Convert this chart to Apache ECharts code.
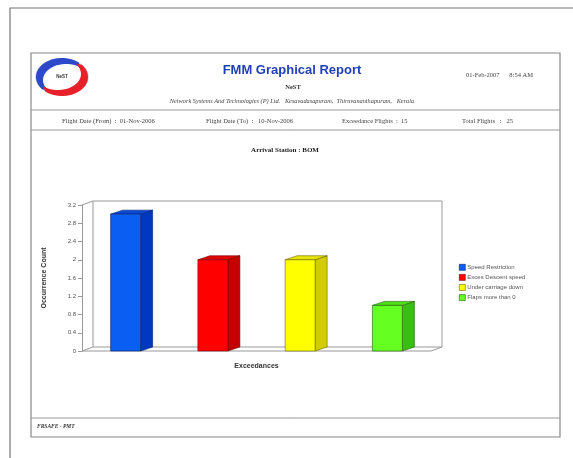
<!DOCTYPE html>
<html><head><meta charset="utf-8">
<script src="https://cdn.jsdelivr.net/npm/echarts@6/dist/echarts.min.js"></script>
<style>html,body{margin:0;padding:0;background:#fff}#c{width:573px;height:458px}</style>
</head><body><div id="c"></div>
<script>
const categories = ['Speed Restriction', 'Exces Descent speed', 'Under carriage down', 'Flaps more than 0'];
const values = [3, 2, 2, 1];
const yTicks = [0, 0.4, 0.8, 1.2, 1.6, 2, 2.4, 2.8, 3.2];
const frontColors = ['#0a5ef2', '#ff0000', '#ffff00', '#66ff22'];
const sideColors = ['#0038c0', '#c40000', '#d2cc00', '#38c010'];
const topColors = ['#0a4ad8', '#e00000', '#e8e400', '#50e018'];
const edgeColors = ['#00206a', '#700000', '#6a6600', '#206008'];

const chart = echarts.init(document.getElementById('c'), null, {renderer: 'canvas'});
const DX = 12, DY = -4, BW = 30;
const serif = '"Liberation Serif", "DejaVu Serif", serif';
const sans = '"Liberation Sans", Arial, sans-serif';

const series = categories.map((name, i) => ({
  type: 'custom', name: name,
  itemStyle: {color: frontColors[i], borderColor: edgeColors[i]},
  data: [[i, values[i]]],
  renderItem: function (params, api) {
    const x = api.value(0), v = api.value(1);
    const p0 = api.coord([x, 0]), p1 = api.coord([x, v]);
    const l = p0[0] - BW / 2, r = p0[0] + BW / 2, b = p0[1], t = p1[1];
    const ec = edgeColors[i];
    return {type: 'group', children: [
      {type: 'polygon', shape: {points: [[r, t], [r + DX, t + DY], [r + DX, b + DY], [r, b]]}, style: {fill: sideColors[i], stroke: ec, lineWidth: 0.6}},
      {type: 'polygon', shape: {points: [[l, t], [l + DX, t + DY], [r + DX, t + DY], [r, t]]}, style: {fill: topColors[i], stroke: ec, lineWidth: 0.6}},
      {type: 'rect', shape: {x: l, y: t, width: BW, height: b - t}, style: {fill: frontColors[i], stroke: ec, lineWidth: 0.6}}
    ]};
  }
}));

chart.setOption({
  animation: false,
  backgroundColor: '#fff',
  grid: {left: 82, right: 142, top: 205, bottom: 107},
  xAxis: {type: 'category', data: categories, name: 'Exceedances', nameLocation: 'middle', nameGap: 12,
    nameTextStyle: {fontFamily: sans, fontSize: 7, fontWeight: 'bold', color: '#333'},
    axisLine: {show: false}, axisTick: {show: false}, axisLabel: {show: false}, splitLine: {show: false}},
  yAxis: {type: 'value', min: yTicks[0], max: yTicks[yTicks.length - 1], interval: 0.4,
    name: 'Occurrence Count', nameLocation: 'middle', nameRotate: 90, nameGap: 34,
    nameTextStyle: {fontFamily: sans, fontSize: 7, fontWeight: 'bold', color: '#333'},
    axisLine: {show: true, lineStyle: {color: '#999', width: 1}},
    axisTick: {show: true, length: 4, lineStyle: {color: '#999'}},
    axisLabel: {fontFamily: sans, fontSize: 6, color: '#555', margin: 6,
      formatter: v => String(Math.round(v * 10) / 10)},
    splitLine: {show: false}},
  legend: {orient: 'vertical', left: 454, top: 259, itemWidth: 6, itemHeight: 6, itemGap: 3.5, icon: 'rect',
    textStyle: {fontFamily: sans, fontSize: 6, color: '#555', padding: [0, 0, 0, -3]},
    data: categories.map((n, i) => ({name: n, itemStyle: {color: frontColors[i], borderColor: edgeColors[i], borderWidth: 0.6}}))},
  series: series
});

const yb = chart.convertToPixel({yAxisIndex: 0}, yTicks[0]);
const yt = chart.convertToPixel({yAxisIndex: 0}, yTicks[yTicks.length - 1]);
const xl = 82, xr = 573 - 142;
const wallStroke = {stroke: '#999', lineWidth: 1, fill: null};
const g = [];
g.push({type: 'polyline', shape: {points: [[10, 458], [10, 8], [573, 8]]}, style: {stroke: '#777', lineWidth: 1.2, fill: null}, z: 0});
g.push({type: 'rect', shape: {x: 31, y: 53, width: 529, height: 384}, style: {stroke: '#888', lineWidth: 1.2, fill: null}});
g.push({type: 'line', shape: {x1: 31, y1: 110, x2: 560, y2: 110}, style: {stroke: '#999', lineWidth: 1}});
g.push({type: 'line', shape: {x1: 31, y1: 130, x2: 560, y2: 130}, style: {stroke: '#999', lineWidth: 1}});
g.push({type: 'line', shape: {x1: 31, y1: 418, x2: 560, y2: 418}, style: {stroke: '#999', lineWidth: 1}});
g.push({type: 'rect', shape: {x: xl + 11, y: yt - 4, width: xr - xl, height: yb - yt}, style: wallStroke, z: 1});
g.push({type: 'polyline', shape: {points: [[xl, yt], [xl + 11, yt - 4]]}, style: wallStroke, z: 1});
g.push({type: 'polyline', shape: {points: [[xl + 11, yb - 4], [xl, yb], [xr, yb], [xr + 11, yb - 4]]}, style: wallStroke, z: 1});
function crescent(cx, cy, rx, ry, icx, icy, irx, iry, a0, a1) {
  const pts = [];
  const n = 24;
  for (let k = 0; k <= n; k++) { const a = (a0 + (a1 - a0) * k / n) * Math.PI / 180; pts.push([cx + rx * Math.cos(a), cy + ry * Math.sin(a)]); }
  for (let k = n; k >= 0; k--) { const a = (a0 + (a1 - a0) * k / n) * Math.PI / 180; pts.push([icx + irx * Math.cos(a), icy + iry * Math.sin(a)]); }
  return pts;
}
g.push({type: 'ellipse', shape: {cx: 62, cy: 77, rx: 26, ry: 18}, style: {stroke: '#c8c8c8', lineWidth: 1.5, fill: '#fff'}});
g.push({type: 'polygon', shape: {points: crescent(62, 77, 26, 19, 66, 80, 23, 16, 140, 310)}, style: {fill: '#2b49c8'}});
g.push({type: 'polygon', shape: {points: crescent(62, 77, 26, 19, 58, 74, 23, 16, -40, 130)}, style: {fill: '#e8202a'}});
g.push({type: 'text', style: {x: 62, y: 77, text: 'NeST', fontFamily: sans, fontSize: 4.5, fontWeight: 'bold', fill: '#333', align: 'center', verticalAlign: 'middle'}});
const T = (x, y, text, o) => g.push({type: 'text', style: Object.assign({x: x, y: y, text: text, fontFamily: serif, fontSize: 6.5, fill: '#444', align: 'left', verticalAlign: 'middle'}, o || {})});
T(292, 70, 'FMM Graphical Report', {fontFamily: sans, fontSize: 13, fontWeight: 'bold', fill: '#1f3fb8', align: 'center'});
T(293, 87, 'NeST', {fontSize: 6.5, fontWeight: 'bold', fill: '#333', align: 'center'});
T(292, 101, 'Network Systems And Technologies (P) Ltd.   Kesavadasapuram,  Thiruvananthapuram,   Kerala', {fontStyle: 'italic', fontSize: 6.3, align: 'center'});
T(466, 75, '01-Feb-2007      8:54 AM');
T(62, 121, 'Flight Date (From)  :  01-Nov-2006');
T(206, 121, 'Flight Date (To)  :   10-Nov-2006');
T(342, 121, 'Exceedance Flights  :  15');
T(462, 121, 'Total Flights   :   25');
T(285, 150, 'Arrival Station : BOM', {fontWeight: 'bold', fontSize: 7, fill: '#222', align: 'center'});
T(37, 427, 'FRSAFE - PMT', {fontWeight: 'bold', fontStyle: 'italic', fontSize: 5.5, fill: '#333'});
chart.setOption({graphic: {elements: g}});
</script></body></html>
